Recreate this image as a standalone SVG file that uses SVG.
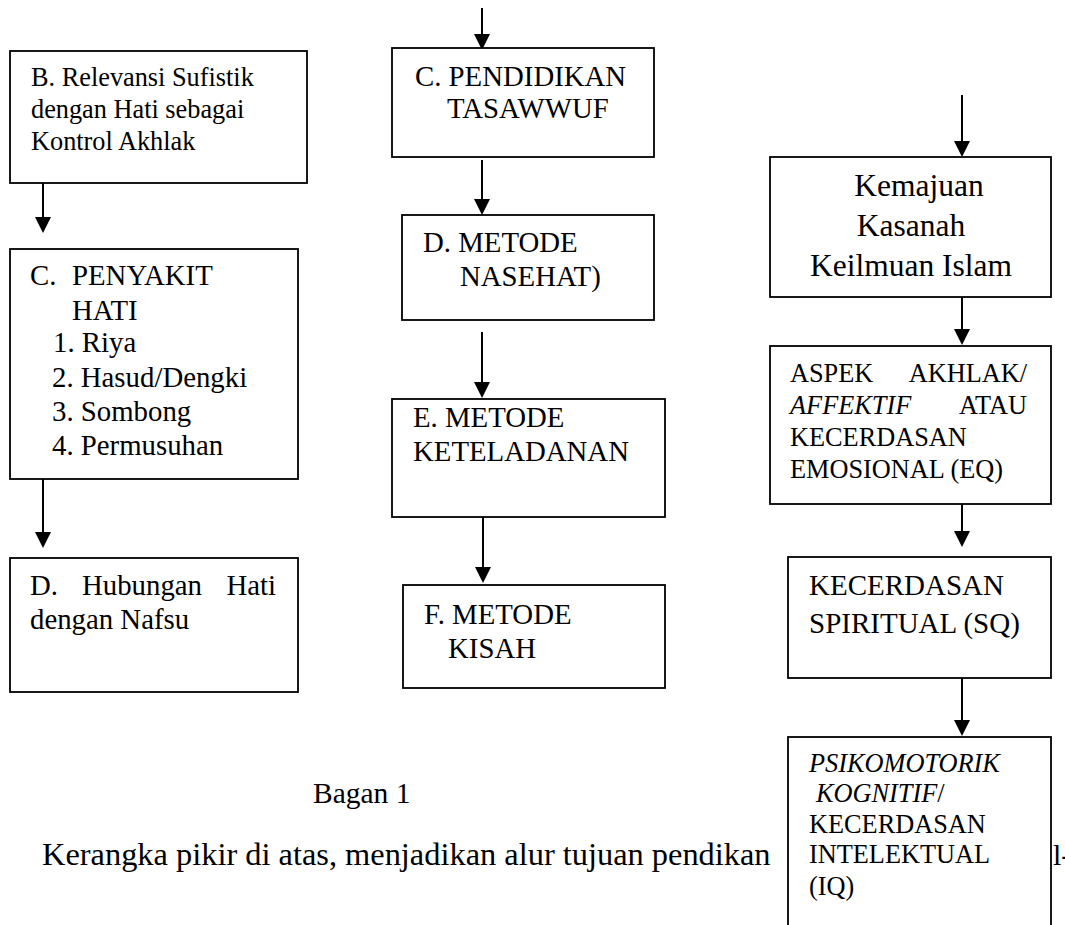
<svg xmlns="http://www.w3.org/2000/svg" width="1065" height="925" viewBox="0 0 1065 925">
  <defs>
    <style>
      .box { fill: #fff; stroke: #000; stroke-width: 1.8; }
      .t { font-family: "Liberation Serif", "Times New Roman", serif; fill: #000; }
      .s12 { font-size: 28.8px; }
      .s11 { font-size: 26.3px; }
      .s13 { font-size: 31.5px; }
      .it { font-style: italic; }
      .link { stroke: #000; stroke-width: 2; fill: none; }
      .head { fill: #000; }
    </style>
  </defs>

  <rect width="1065" height="925" fill="#fff"/>

  <!-- caption and paragraph text (the last column box is drawn over the paragraph) -->
  <g id="caption">
    <text class="t" x="313" y="803" font-size="29.5">Bagan 1</text>
    <text class="t" x="42" y="865" font-size="32.4">Kerangka pikir di atas, menjadikan alur tujuan pendikan</text>
    <text class="t" x="1053" y="865" font-size="30">l-</text>
  </g>

  <!-- connectors: vertical shafts with solid triangular heads -->
  <g id="connectors">
    <line class="link" x1="43" y1="183" x2="43" y2="218"/>
    <path class="head" d="M35,217 L51,217 L43,233 Z"/>
    <line class="link" x1="43" y1="479" x2="43" y2="533"/>
    <path class="head" d="M35,532 L51,532 L43,548 Z"/>

    <line class="link" x1="482" y1="8" x2="482" y2="35"/>
    <path class="head" d="M474,34 L490,34 L482,50 Z"/>
    <line class="link" x1="482" y1="160" x2="482" y2="200"/>
    <path class="head" d="M474,199 L490,199 L482,215 Z"/>
    <line class="link" x1="482" y1="332" x2="482" y2="383"/>
    <path class="head" d="M474,382 L490,382 L482,398 Z"/>
    <line class="link" x1="483" y1="517" x2="483" y2="568"/>
    <path class="head" d="M475,567 L491,567 L483,583 Z"/>

    <line class="link" x1="962" y1="95" x2="962" y2="142"/>
    <path class="head" d="M954,141 L970,141 L962,157 Z"/>
    <line class="link" x1="962" y1="297" x2="962" y2="330"/>
    <path class="head" d="M954,329 L970,329 L962,345 Z"/>
    <line class="link" x1="962" y1="504" x2="962" y2="532"/>
    <path class="head" d="M954,531 L970,531 L962,547 Z"/>
    <line class="link" x1="962" y1="678" x2="962" y2="721"/>
    <path class="head" d="M954,720 L970,720 L962,736 Z"/>
  </g>

  <!-- left column -->
  <g id="relevansi">
    <rect class="box" x="10" y="51" width="297" height="132"/>
    <text class="t s11" x="31" y="86">B. Relevansi Sufistik</text>
    <text class="t s11" x="31" y="118">dengan Hati sebagai</text>
    <text class="t s11" x="31" y="150">Kontrol Akhlak</text>
  </g>

  <g id="penyakit-hati">
    <rect class="box" x="10" y="249" width="288" height="230"/>
    <text class="t s12" x="30" y="285">C.</text>
    <text class="t s12" x="72" y="285">PENYAKIT</text>
    <text class="t s12" x="72" y="320">HATI</text>
    <text class="t s12" x="53" y="352">1. Riya</text>
    <text class="t s12" x="52" y="387">2. Hasud/Dengki</text>
    <text class="t s12" x="52" y="421">3. Sombong</text>
    <text class="t s12" x="52" y="455">4. Permusuhan</text>
  </g>

  <g id="hubungan">
    <rect class="box" x="10" y="558" width="288" height="134"/>
    <text class="t s12" x="30" y="595">D.</text>
    <text class="t s12" x="82" y="595">Hubungan</text>
    <text class="t s12" x="276" y="595" text-anchor="end">Hati</text>
    <text class="t s12" x="30" y="629">dengan Nafsu</text>
  </g>

  <!-- middle column -->
  <g id="pendidikan">
    <rect class="box" x="392" y="48" width="262" height="109"/>
    <text class="t s12" x="415" y="86">C. PENDIDIKAN</text>
    <text class="t s12" x="447" y="118">TASAWWUF</text>
  </g>

  <g id="nasehat">
    <rect class="box" x="402" y="215" width="252" height="105"/>
    <text class="t s12" x="423" y="252">D. METODE</text>
    <text class="t s12" x="460" y="286">NASEHAT)</text>
  </g>

  <g id="keteladanan">
    <rect class="box" x="392" y="399" width="273" height="118"/>
    <text class="t s12" x="413" y="427">E. METODE</text>
    <text class="t s12" x="413" y="461">KETELADANAN</text>
  </g>

  <g id="kisah">
    <rect class="box" x="403" y="585" width="262" height="103"/>
    <text class="t s12" x="424" y="624">F. METODE</text>
    <text class="t s12" x="448" y="658">KISAH</text>
  </g>

  <!-- right column -->
  <g id="kemajuan">
    <rect class="box" x="770" y="157" width="281" height="140"/>
    <text class="t s13" x="919" y="196" text-anchor="middle">Kemajuan</text>
    <text class="t s13" x="911" y="236" text-anchor="middle">Kasanah</text>
    <text class="t s13" x="911" y="276" text-anchor="middle">Keilmuan Islam</text>
  </g>

  <g id="akhlak">
    <rect class="box" x="770" y="346" width="281" height="158"/>
    <text class="t s11" x="790" y="382">ASPEK</text>
    <text class="t s11" x="1027" y="382" text-anchor="end">AKHLAK/</text>
    <text class="t s11 it" x="790" y="414">AFFEKTIF</text>
    <text class="t s11" x="1027" y="414" text-anchor="end">ATAU</text>
    <text class="t s11" x="790" y="446">KECERDASAN</text>
    <text class="t s11" x="790" y="478">EMOSIONAL (EQ)</text>
  </g>

  <g id="spiritual">
    <rect class="box" x="788" y="557" width="263" height="121"/>
    <text class="t" font-size="29" x="809" y="595">KECERDASAN</text>
    <text class="t" font-size="29" x="809" y="633">SPIRITUAL (SQ)</text>
  </g>

  <g id="intelektual">
    <rect class="box" x="788" y="737" width="263" height="200"/>
    <text class="t s11 it" x="809" y="772">PSIKOMOTORIK</text>
    <text class="t s11" x="816" y="802"><tspan class="it">KOGNITIF</tspan>/</text>
    <text class="t s11" x="809" y="833">KECERDASAN</text>
    <text class="t s11" x="809" y="863">INTELEKTUAL</text>
    <text class="t s11" x="809" y="895">(IQ)</text>
  </g>
</svg>
